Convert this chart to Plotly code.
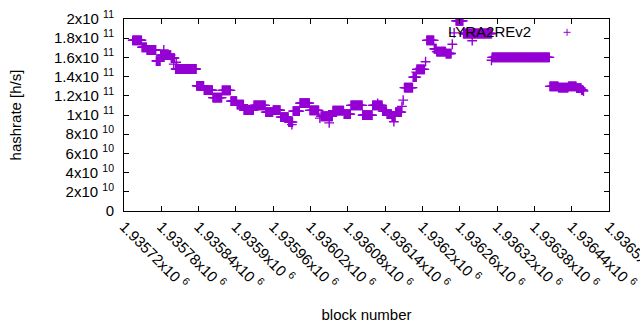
import plotly.graph_objects as go

# plateau segments: first block, last block, hashrate [h/s]
seg_start = [1935734, 1935749, 1935757, 1935772, 1935779, 1935796, 1935803, 1935837,
             1935849, 1935863, 1935878, 1935892, 1935902, 1935913, 1935929, 1935948,
             1935960, 1935972, 1935985, 1935992, 1936003, 1936019, 1936037, 1936056,
             1936074, 1936085, 1936104, 1936120, 1936136, 1936143, 1936151, 1936157,
             1936171, 1936185, 1936191, 1936207, 1936219, 1936223, 1936238, 1936254,
             1936266, 1936312, 1936405, 1936419, 1936435, 1936448, 1936456]
seg_end = [1935748, 1935756, 1935771, 1935778, 1935795, 1935801, 1935836, 1935848,
           1935862, 1935877, 1935891, 1935901, 1935912, 1935928, 1935947, 1935959,
           1935971, 1935984, 1935991, 1936002, 1936018, 1936033, 1936055, 1936073,
           1936084, 1936103, 1936119, 1936135, 1936142, 1936150, 1936156, 1936166,
           1936184, 1936190, 1936203, 1936218, 1936222, 1936237, 1936246, 1936265,
           1936311, 1936404, 1936418, 1936434, 1936447, 1936455, 1936458]
seg_value = [1.778e11, 1.705e11, 1.677e11, 1.562e11, 1.624e11, 1.593e11, 1.479e11, 1.304e11,
             1.259e11, 1.181e11, 1.256e11, 1.145e11, 1.108e11, 1.050e11, 1.100e11, 1.030e11,
             1.050e11, 0.978e11, 0.926e11, 1.040e11, 1.124e11, 1.048e11, 0.987e11, 1.045e11,
             1.009e11, 1.100e11, 0.998e11, 1.100e11, 1.040e11, 1.009e11, 0.988e11, 1.030e11,
             1.285e11, 1.395e11, 1.475e11, 1.777e11, 1.690e11, 1.660e11, 1.640e11, 1.980e11,
             1.849e11, 1.600e11, 1.298e11, 1.285e11, 1.298e11, 1.280e11, 1.260e11]

# isolated single blocks
single_block = [1935784, 1935800, 1935804, 1935990, 1936035, 1936050, 1936104,
                1936128, 1936154, 1936167, 1936169, 1936190, 1936205, 1936248, 1936251,
                1936280, 1936311, 1936459]
single_value = [1.677e11, 1.530e11, 1.550e11, 0.900e11, 0.967e11, 0.918e11, 0.998e11,
                1.120e11, 0.930e11, 1.090e11, 1.155e11, 1.447e11, 1.555e11, 1.737e11, 1.855e11,
                1.774e11, 1.570e11, 1.250e11]

x_ticks = [1935720 + 60 * k for k in range(14)]
x_tick_mant = ["1.93572", "1.93578", "1.93584", "1.9359", "1.93596", "1.93602", "1.93608",
               "1.93614", "1.9362", "1.93626", "1.93632", "1.93638", "1.93644", "1.9365"]
y_ticks = [0, 2e10, 4e10, 6e10, 8e10, 1e11, 1.2e11, 1.4e11, 1.6e11, 1.8e11, 2e11]
y_tick_text = ["0", "2x10 <sup>10</sup>", "4x10 <sup>10</sup>", "6x10 <sup>10</sup>",
               "8x10 <sup>10</sup>", "1x10 <sup>11</sup>", "1.2x10 <sup>11</sup>",
               "1.4x10 <sup>11</sup>", "1.6x10 <sup>11</sup>", "1.8x10 <sup>11</sup>",
               "2x10 <sup>11</sup>"]

xs, ys = [], []
for s, e, v in zip(seg_start, seg_end, seg_value):
    for b in range(s, e + 1):
        xs.append(b)
        ys.append(v)
xs += single_block
ys += single_value

COLOR = "#9400d3"
FONT = "Liberation Sans, Arial, sans-serif"

fig = go.Figure()
fig.add_trace(go.Scatter(
    x=xs, y=ys, mode="markers", name="LYRA2REv2", showlegend=False, hoverinfo="skip",
    marker=dict(symbol="cross-thin", size=7, line=dict(color=COLOR, width=1.4), color=COLOR),
))

axis_common = dict(showgrid=False, zeroline=False, showline=True, linecolor="black",
                   linewidth=1, mirror="ticks", ticks="inside", ticklen=5,
                   tickcolor="black", automargin=False, ticklabeloverflow="allow",
                   tickfont=dict(family=FONT, size=15, color="black"))

fig.update_layout(
    width=640, height=330,
    margin=dict(l=124, r=31, t=19, b=119, autoexpand=False),
    paper_bgcolor="white", plot_bgcolor="white",
    font=dict(family=FONT, size=15, color="black"),
    xaxis=dict(range=[1935720, 1936500], tickmode="array", tickvals=x_ticks,
               ticktext=[m + "x10 <sup>6</sup>" for m in x_tick_mant], tickangle=45,
               title=dict(text="block number", font=dict(family=FONT, size=15), standoff=17),
               **axis_common),
    yaxis=dict(range=[0, 2e11], tickmode="array", tickvals=y_ticks, ticktext=y_tick_text,
               ticklabelstandoff=6,
               title=dict(text="hashrate [h/s]", font=dict(family=FONT, size=15), standoff=28),
               **axis_common),
)

# key (gnuplot style: text then sample)
fig.add_annotation(x=0.843, y=0.9374, xref="paper", yref="paper", text="LYRA2REv2",
                   showarrow=False, xanchor="right", yanchor="middle",
                   font=dict(family=FONT, size=15, color="black"))
for dx0, dy0, dx1, dy1 in [(-3.5, 0, 3.5, 0), (0, -3.5, 0, 3.5)]:
    fig.add_shape(type="line", xref="paper", yref="paper", xsizemode="pixel", ysizemode="pixel",
                  xanchor=0.9135, yanchor=0.9306, x0=dx0, x1=dx1, y0=dy0, y1=dy1,
                  line=dict(color=COLOR, width=1))

fig.write_html("out.html", config={"displayModeBar": False},
               post_script="document.body.style.margin='0';")
